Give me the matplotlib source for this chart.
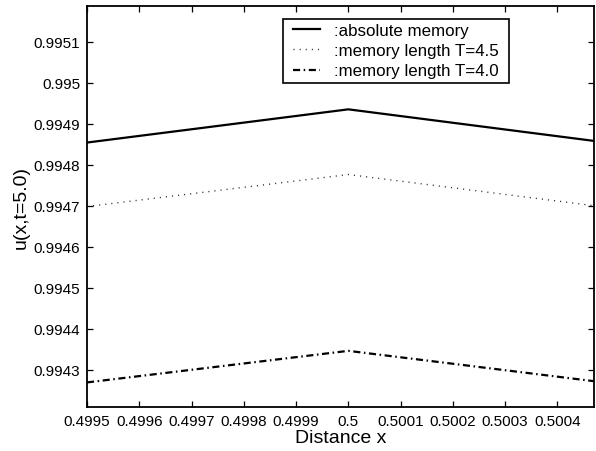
import matplotlib
matplotlib.use("Agg")
import matplotlib.pyplot as plt
from matplotlib.ticker import FixedLocator, FixedFormatter

plt.rcParams['font.family'] = ['Liberation Sans', 'DejaVu Sans']

x = [0.4995, 0.5, 0.50047]
u_absolute = [0.994854, 0.994935, 0.994858]
u_T45 = [0.994698, 0.994776, 0.994700]
u_T40 = [0.994269, 0.994346, 0.994272]

labels = [':absolute memory', ':memory length T=4.5', ':memory length T=4.0']

xticks = [0.4995, 0.4996, 0.4997, 0.4998, 0.4999, 0.5, 0.5001, 0.5002, 0.5003, 0.5004]
xticklabels = ['0.4995', '0.4996', '0.4997', '0.4998', '0.4999', '0.5', '0.5001', '0.5002', '0.5003', '0.5004']
yticks = [0.9943, 0.9944, 0.9945, 0.9946, 0.9947, 0.9948, 0.9949, 0.995, 0.9951]
yticklabels = ['0.9943', '0.9944', '0.9945', '0.9946', '0.9947', '0.9948', '0.9949', '0.995', '0.9951']

fig = plt.figure(figsize=(5.96, 4.52), dpi=100)
ax = fig.add_axes([0.146, 0.0973, 0.8506, 0.8872])

ax.plot(x, u_absolute, color='black', lw=1.6, label=labels[0])
ax.plot(x, u_T45, color='#333333', lw=1.0, linestyle=(0, (0.8, 3.6)), label=labels[1])
ax.plot(x, u_T40, color='black', lw=1.6, linestyle=(0, (3.2, 1.6, 0.7, 1.6)), label=labels[2])

ax.set_xlim(0.4995, 0.50047)
ax.set_ylim(0.994209, 0.995187)

ax.xaxis.set_major_locator(FixedLocator(xticks))
ax.xaxis.set_major_formatter(FixedFormatter(xticklabels))
ax.yaxis.set_major_locator(FixedLocator(yticks))
ax.yaxis.set_major_formatter(FixedFormatter(yticklabels))

ax.tick_params(direction='in', length=4.5, width=0.9, top=True, right=True,
               labelsize=11, pad=5)
for s in ax.spines.values():
    s.set_linewidth(1.3)

ax.set_xlabel('Distance x', fontsize=14, labelpad=1)
ax.set_ylabel('u(x,t=5.0)', fontsize=14, labelpad=3)

leg = ax.legend(loc='upper left', bbox_to_anchor=(0.3984, 0.9675), fontsize=12.2,
                frameon=True, fancybox=False, edgecolor='black', framealpha=1,
                handlelength=1.6, handletextpad=0.8, borderpad=0.25,
                labelspacing=0.3, borderaxespad=0)
frame = leg.get_frame()
frame.set_linewidth(1.2)
frame.set_boxstyle('square', pad=0.36)
frame.set_mutation_aspect(0.01)

fig.savefig('out.png', dpi=100)
